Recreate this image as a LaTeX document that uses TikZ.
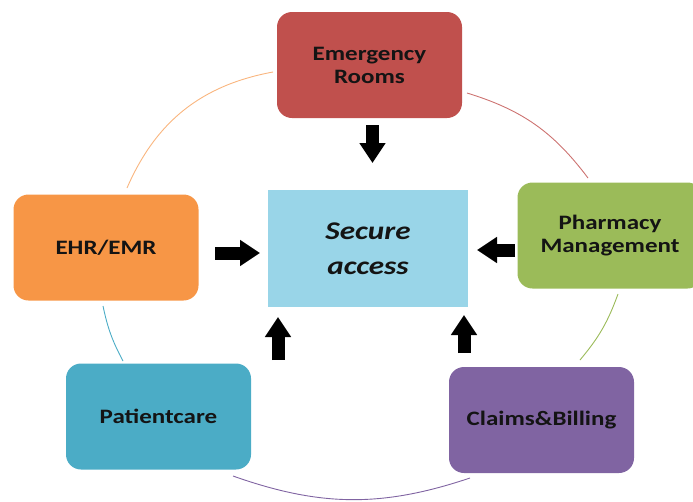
\documentclass[tikz,border=0pt]{standalone}
\usepackage{fontspec}
\newfontfamily\boxfont{Carlito}[FakeStretch=1.22]
\usetikzlibrary{arrows.meta}
\definecolor{cER}{HTML}{C0504D}
\definecolor{cEHR}{HTML}{F79646}
\definecolor{cPH}{HTML}{9BBB59}
\definecolor{cPC}{HTML}{4BACC6}
\definecolor{cCB}{HTML}{8064A2}
\definecolor{cSA}{HTML}{99D5E8}
\definecolor{txt}{HTML}{141414}
\begin{document}
\begin{tikzpicture}[x=1pt,y=-1pt,
  box/.style={rounded corners=15pt, minimum width=185pt, minimum height=106pt, inner sep=0pt,
    align=center, font=\boxfont\bfseries\fontsize{20.5}{23}\selectfont, text=txt},
  blk/.style={draw=black, line width=13pt, -{Triangle[width=25pt,length=20pt]}},
  ring/.style={line width=0.9pt}]
\useasboundingbox (0,0) rectangle (693,501);
\clip (0,0) rectangle (693,501);
% ring arcs
\coordinate (r1a) at (127,188); \coordinate (r1b) at (273,72);
\coordinate (r2a) at (467,93);  \coordinate (r2b) at (588,178);
\coordinate (r3a) at (618,294); \coordinate (r3b) at (580,360);
\coordinate (r4a) at (470,478); \coordinate (r4b) at (233,476);
\coordinate (r5a) at (123,361); \coordinate (r5b) at (103,306);
\draw[ring, draw=cEHR!70] (r1a) to[bend left=28] (r1b);
\draw[ring, draw=cER!80] (r2a) to[bend left=18] (r2b);
\draw[ring, draw=cPH] (r3a) to[bend left=10] (r3b);
\draw[ring, draw=cCB] (r4a) to[bend left=19] (r4b);
\draw[ring, draw=cPC] (r5a) to[bend left=8] (r5b);
% boxes
\node[box, fill=cER] (er) at (369.5,65) {Emergency\\Rooms};
\node[box, fill=cEHR] (ehr) at (106,247.5) {EHR/EMR};
\node[box, fill=cPH] (ph) at (610,235.5) {Pharmacy\\Management};
\node[box, fill=cPC] (pc) at (158.5,416.5) {Patientcare};
\node[box, fill=cCB] (cb) at (541.5,420) {Claims\&Billing};
\node[fill=cSA, minimum width=200pt, minimum height=117pt, inner sep=0pt, align=center,
  font=\boxfont\bfseries\itshape\fontsize{25.5}{35}\selectfont, text=txt] (sa) at (368,248.5) {Secure\\access};
% block arrows
\coordinate (a1s) at (372.5,125); \coordinate (a1e) at (372.5,163);
\coordinate (a2s) at (215,253);   \coordinate (a2e) at (260,253);
\coordinate (a3s) at (515,250);   \coordinate (a3e) at (477,250);
\coordinate (a4s) at (278,360);   \coordinate (a4e) at (278,317);
\coordinate (a5s) at (464,353);   \coordinate (a5e) at (464,315);
\draw[blk] (a1s) -- (a1e);
\draw[blk] (a2s) -- (a2e);
\draw[blk] (a3s) -- (a3e);
\draw[blk] (a4s) -- (a4e);
\draw[blk] (a5s) -- (a5e);
\end{tikzpicture}
\end{document}
